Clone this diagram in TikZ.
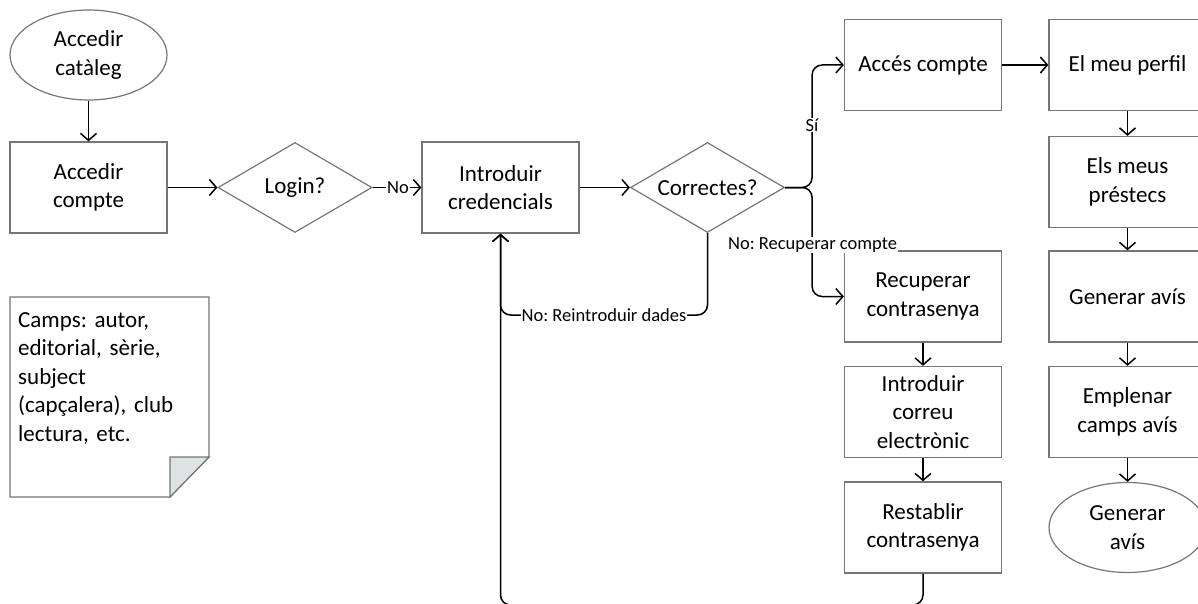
\documentclass[tikz,border=0pt]{standalone}
\usepackage{fontspec}
\setmainfont{Carlito}
\usetikzlibrary{shapes.geometric,arrows.meta}
\definecolor{boxgray}{RGB}{118,118,118}
\definecolor{foldfill}{RGB}{221,227,228}
\begin{document}
\begin{tikzpicture}[x=1pt,y=-1pt,
  bigtext/.style={font=\fontsize{23}{28.5}\selectfont\frenchspacing},
  box/.style={draw=boxgray, line width=1.3pt, minimum width=157pt, minimum height=91pt, inner sep=0pt, align=center, bigtext},
  term/.style={draw=boxgray, line width=1.2pt, ellipse, minimum width=157pt, minimum height=90pt, inner sep=0pt, align=center, bigtext},
  decision/.style={draw=boxgray, line width=1.2pt, diamond, aspect=1.71, minimum width=154pt, minimum height=90pt, inner sep=0pt, align=center, bigtext},
  conn/.style={draw=black, line width=1.5pt, rounded corners=10pt, -{Straight Barb[length=7pt,width=16pt,line width=1.5pt]}},
  lbl/.style={fill=white, inner sep=1pt, font=\fontsize{18.5}{22}\selectfont\frenchspacing}
]
\useasboundingbox (0,0) rectangle (1198,604);
\clip (0,0) rectangle (1198,604);

% nodes
\node[term] (cat) at (88.5,55) {Accedir\\catàleg};
\node[box] (acc) at (88.5,187.5) {Accedir\\compte};
\node[decision] (login) at (295,187.5) {Login?};
\node[box] (intro) at (500.5,187.5) {Introduir\\credencials};
\node[decision] (corr) at (707.5,187.5) {Correctes?};
\node[box] (acces) at (923,65) {Accés compte};
\node[box] (perfil) at (1127.5,65) {El meu perfil};
\node[box] (prest) at (1127.5,182) {Els meus\\préstecs};
\node[box] (genbox) at (1127.5,296.5) {Generar avís};
\node[box] (empl) at (1127.5,412) {Emplenar\\camps avís};
\node[term] (genell) at (1127.5,527.5) {Generar\\avís};
\node[box] (recup) at (923,296.5) {Recuperar\\contrasenya};
\node[box] (correu) at (923,412) {Introduir\\correu\\electrònic};
\node[box] (rest) at (923,527.5) {Restablir\\contrasenya};

% note
\draw[draw=boxgray, line width=1.3pt, fill=white] (10,297) -- (209,297) -- (209,457) -- (170,497) -- (10,497) -- cycle;
\draw[draw=boxgray, line width=1.2pt, fill=foldfill] (170,457) -- (209,457) -- (170,497) -- cycle;
\node[anchor=north west, text width=190pt, align=left, inner sep=0pt, bigtext] (note) at (18,312) {Camps: autor,\\editorial, sèrie,\\subject\\(capçalera), club\\lectura, etc.};

% connectors
\draw[conn] (cat) -- (acc);
\draw[conn] (acc) -- (login);
\draw[conn] (login) -- (intro);
\draw[conn] (intro) -- (corr);
\draw[conn] (corr.east) -- ++(27,0) |- (acces.west);
\draw[conn] (corr.east) -- ++(27,0) |- (recup.west);
\draw[conn] (corr.south) |- (600,315) -| (intro.south);
\draw[conn] (rest.south) |- (700,605) -| (intro.south);
\draw[conn] (acces) -- (perfil);
\draw[conn] (perfil) -- (prest);
\draw[conn] (prest) -- (genbox);
\draw[conn] (genbox) -- (empl);
\draw[conn] (empl) -- (genell);
\draw[conn] (recup) -- (correu);
\draw[conn] (correu) -- (rest);

% labels
\node[lbl] (lno) at (398,187.5) {No};
\node[lbl] (lsi) at (812,125) {Sí};
\node[lbl] (lrec) at (812.5,245) {No: Recuperar compte};
\node[lbl] (lrei) at (604,315) {No: Reintroduir dades};
\end{tikzpicture}
\end{document}
